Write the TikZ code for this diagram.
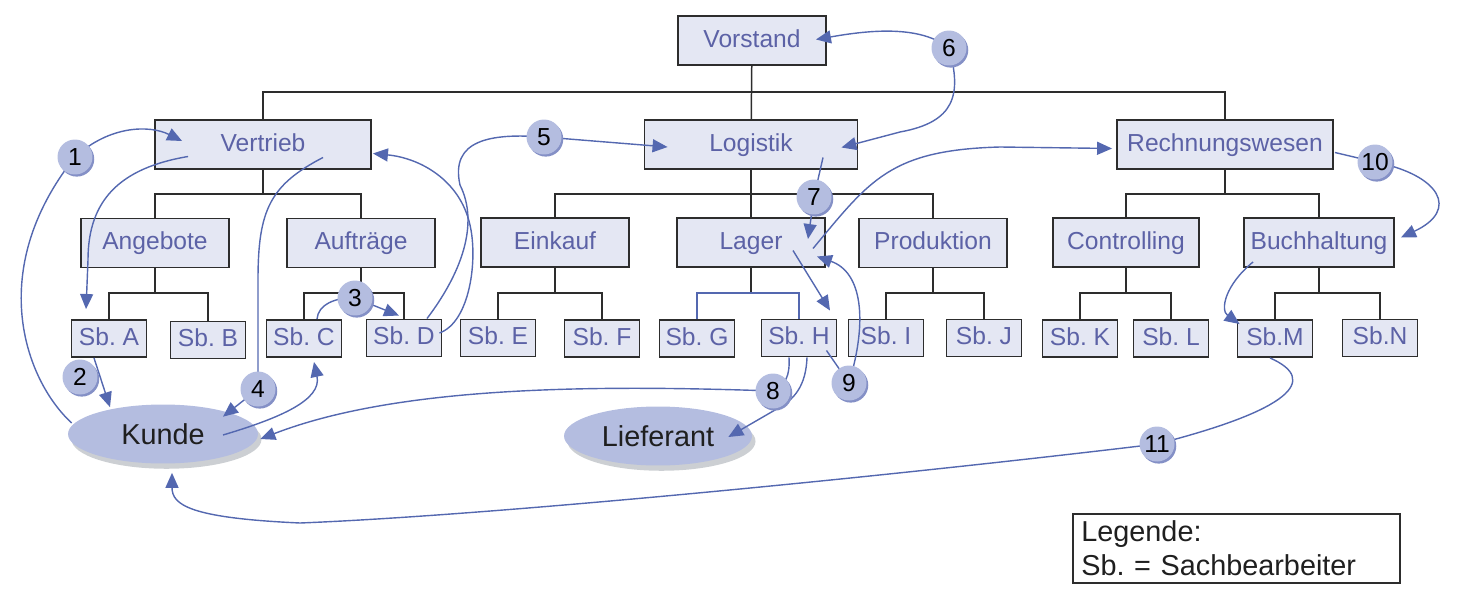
\documentclass[tikz,border=0pt]{standalone}
\usepackage{fontspec}
\setmainfont{Liberation Sans}
\usetikzlibrary{arrows.meta,calc,shapes.geometric,shadows}
\frenchspacing

\definecolor{boxfill}{RGB}{228,231,243}
\definecolor{boxtext}{RGB}{92,98,166}
\definecolor{flowblue}{RGB}{84,104,176}
\definecolor{numfill}{RGB}{180,189,224}
\definecolor{numshade}{RGB}{132,144,198}
\definecolor{ellshade}{RGB}{204,207,211}
\definecolor{frame}{RGB}{45,45,45}

\pgfdeclarelayer{front}
\pgfsetlayers{main,front}

\begin{document}
\begin{tikzpicture}[x=0.02cm,y=-0.02cm,
    box/.style={draw=frame,line width=1.1pt,fill=boxfill,text=boxtext,font=\fontsize{14}{16}\selectfont,text height=10pt,text depth=2.5pt,minimum width=2.96cm,minimum height=0.98cm,inner sep=0pt},
    sb/.style={box,minimum width=1.5cm,minimum height=0.74cm},
    party/.style={ellipse,fill=numfill,minimum width=3.8cm,minimum height=1.18cm,inner sep=0pt,font=\fontsize{16.4}{19}\selectfont,text=black!88,drop shadow={shadow xshift=2pt,shadow yshift=-3pt,fill=ellshade,opacity=1}},
    num/.style={circle,fill=numfill,minimum size=0.7cm,inner sep=0pt,font=\fontsize{14}{16}\selectfont,drop shadow={shadow xshift=1pt,shadow yshift=-1.2pt,fill=numshade,opacity=1}},
    legend/.style={draw=frame,line width=1pt,text width=6.2cm,align=left,inner xsep=0.17cm,inner ysep=0pt,minimum height=1.38cm,font=\fontsize{16.4}{19.4}\selectfont,text=black!88},
    tree/.style={draw=frame,line width=0.85pt},
    flow/.style={draw=flowblue,line width=0.8pt},
    >={Triangle[length=0.3cm,width=0.26cm]}]
  \useasboundingbox (0,0) rectangle (1463,588);

  \node[box] (vor) at (752,40.5) {Vorstand};
  \node[box,minimum width=4.32cm] (vertrieb) at (263,144.5) {Vertrieb};
  \node[box,minimum width=4.26cm] (logistik) at (751,144.5) {Logistik};
  \node[box,minimum width=4.32cm] (rw) at (1225,144.5) {Rechnungswesen};
  \node[box] (angebote) at (155,243) {Angebote};
  \node[box] (auftraege) at (361,243) {Aufträge};
  \node[box] (einkauf) at (555,242.5) {Einkauf};
  \node[box] (lager) at (751,242.5) {Lager};
  \node[box] (produktion) at (933,243) {Produktion};
  \node[box,minimum width=2.92cm] (controlling) at (1126,242.5) {Controlling};
  \node[box,minimum width=3cm] (buchhaltung) at (1319,242.5) {Buchhaltung};

  \node[sb] (sbA) at (109,338.5) {Sb. A};
  \node[sb] (sbB) at (208,340) {Sb. B};
  \node[sb] (sbC) at (304,338.5) {Sb. C};
  \node[sb] (sbD) at (404,338) {Sb. D};
  \node[sb] (sbE) at (498,338) {Sb. E};
  \node[sb] (sbF) at (602,338.5) {Sb. F};
  \node[sb] (sbG) at (697,338.5) {Sb. G};
  \node[sb] (sbH) at (799,338) {Sb. H};
  \node[sb] (sbI) at (886,338) {Sb. I};
  \node[sb] (sbJ) at (984,338) {Sb. J};
  \node[sb] (sbK) at (1080,338.5) {Sb. K};
  \node[sb] (sbL) at (1171,338.5) {Sb. L};
  \node[sb] (sbM) at (1275,338.5) {Sb.M};
  \node[sb] (sbN) at (1380,338) {Sb.N};

  \node[party] (kunde) at (163,434) {Kunde};
  \node[party,minimum width=3.76cm] (lieferant) at (658,436) {Lieferant};
  \node[legend,anchor=north west] (legende) at (1072,513) {Legende:\\Sb. = Sachbearbeiter};

  \coordinate (bus0) at (0,92);
  \coordinate (bus1) at (0,194);
  \coordinate (bus2) at (0,293);
  \draw[tree] (vor) -- (logistik);
  \draw[tree] (vertrieb.north) |- (rw.north |- bus0) -- (rw.north);
  \draw[tree] (vertrieb.south) -- (vertrieb.south |- bus1);
  \draw[tree] (angebote.north) |- (auftraege.north |- bus1) -- (auftraege.north);
  \draw[tree] (logistik) -- (lager);
  \draw[tree] (einkauf.north) |- (produktion.north |- bus1) -- (produktion.north);
  \draw[tree] (rw.south) -- (rw.south |- bus1);
  \draw[tree] (controlling.north) |- (buchhaltung.north |- bus1) -- (buchhaltung.north);
  \draw[tree] (angebote.south) -- (angebote.south |- bus2);
  \draw[tree] (sbA.north) |- (sbB.north |- bus2) -- (sbB.north);
  \draw[tree] (auftraege.south) -- (auftraege.south |- bus2);
  \draw[tree] (sbC.north) |- (sbD.north |- bus2) -- (sbD.north);
  \draw[tree] (einkauf.south) -- (einkauf.south |- bus2);
  \draw[tree] (sbE.north) |- (sbF.north |- bus2) -- (sbF.north);
  \draw[tree] (lager.south) -- (lager.south |- bus2);
  \draw[flow] (sbG.north) |- (sbH.north |- bus2) -- (sbH.north);
  \draw[tree] (produktion.south) -- (produktion.south |- bus2);
  \draw[tree] (sbI.north) |- (sbJ.north |- bus2) -- (sbJ.north);
  \draw[tree] (controlling.south) -- (controlling.south |- bus2);
  \draw[tree] (sbK.north) |- (sbL.north |- bus2) -- (sbL.north);
  \draw[tree] (buchhaltung.south) -- (buchhaltung.south |- bus2);
  \draw[tree] (sbM.north) |- (sbN.north |- bus2) -- (sbN.north);

  \begin{pgfonlayer}{front}
    \node[num] (n1) at (75,157) {1};
    \node[num] (n2) at (80,377) {2};
    \node[num] (n3) at (355,298) {3};
    \node[num] (n4) at (258,389) {4};
    \node[num] (n5) at (544,137) {5};
    \node[num] (n6) at (949,48) {6};
    \node[num] (n7) at (814,197) {7};
    \node[num] (n8) at (773,391) {8};
    \node[num] (n9) at (849,383) {9};
    \node[num] (n10) at (1375,162) {10};
    \node[num] (n11) at (1157,444) {11};
  \end{pgfonlayer}

  \draw[flow,->] ($(kunde.west)+(4,-11)$) .. controls (25,380) and (-15,270) .. (n1.center) .. controls (110,125) and (150,125) .. ($(vertrieb.west)+(28,-3.5)$);
  \draw[flow,->] ($(vertrieb.west)+(34,12)$) .. controls (120,168) and (88,200) .. (88,260) -- ($(sbA.north west)+(15.5,-10)$);
  \draw[flow,->] ($(sbA.south)+(-15,0)$) -- ($(kunde.north)+(-53,3)$);
  \draw[flow,->] ($(sbC.north)+(13,0)$) .. controls (318,305) and (335,297) .. (n3.center) -- ($(sbD.north)+(-5,-3)$);
  \draw[flow,->] ($(kunde.center)+(60,1)$) .. controls (280,418) and (322,400) .. ($(sbC.south)+(10,4)$);
  \draw[flow,->] ($(vertrieb.center)+(60,13)$) .. controls (270,185) and (258,210) .. (258,280) -- (n4.center) -- ($(kunde.north)+(60,12.5)$);
  \draw[flow,->] ($(sbD.north)+(23,0)$) .. controls (460,275) and (480,225) .. (460,185) .. controls (450,140) and (490,133) .. (n5.center) -- ($(logistik.west)+(24,2.5)$);
  \draw[flow,->] ($(sbD.east)+(-3,-5)$) .. controls (470,322) and (478,260) .. (470,225) .. controls (460,180) and (420,158) .. ($(vertrieb.east)+(1,9)$);
  \draw[flow,->] (n6.center) .. controls (920,25) and (870,30) .. ($(vor.east)+(-11,-1)$);
  \draw[flow,->] (n6.center) .. controls (962,95) and (955,122) .. (900,132) -- ($(logistik.east)+(-17,3)$);
  \draw[flow,->] ($(logistik.center)+(72,13)$) -- (n7.center) -- ($(lager.north)+(57,22)$);
  \draw[flow,->] ($(lager.center)+(62,6)$) .. controls (870,180) and (890,150) .. (1000,147) -- ($(rw.west)+(-4,4)$);
  \draw[flow,->] ($(lager.center)+(42,8)$) -- ($(sbH.north)+(31,-8)$);
  \draw[flow] ($(sbH.south east)+(-11,-7)$) -- (n9.center);
  \draw[flow,->] (n9.center) .. controls (868,320) and (862,272) .. ($(lager.east)+(-9,14)$);
  \draw[flow] ($(sbH.south)+(-10,0)$) .. controls (790,375) and (786,385) .. (n8.center);
  \draw[flow,->] (n8.center) .. controls (600,385) and (400,385) .. ($(kunde.east)+(2,5)$);
  \draw[flow,->] ($(sbH.south)+(8,0)$) .. controls (806,385) and (795,400) .. (775,410) -- ($(lieferant.east)+(-24,1)$);
  \draw[flow] ($(rw.east)+(1,8)$) -- (n10.center);
  \draw[flow,->] (n10.center) .. controls (1440,175) and (1460,210) .. ($(buchhaltung.east)+(6,-5)$);
  \draw[flow,->] ($(buchhaltung.south west)+(10,-6)$) .. controls (1225,285) and (1220,310) .. ($(sbM.north west)+(3,5)$);
  \draw[flow] ($(sbM.south)+(-5,0)$) .. controls (1320,380) and (1290,410) .. (n11.center);
  \draw[flow,->] (n11.center) .. controls (900,475) and (500,515) .. (300,523) .. controls (190,518) and (172,505) .. ($(kunde.south)+(9,9)$);
\end{tikzpicture}
\end{document}
